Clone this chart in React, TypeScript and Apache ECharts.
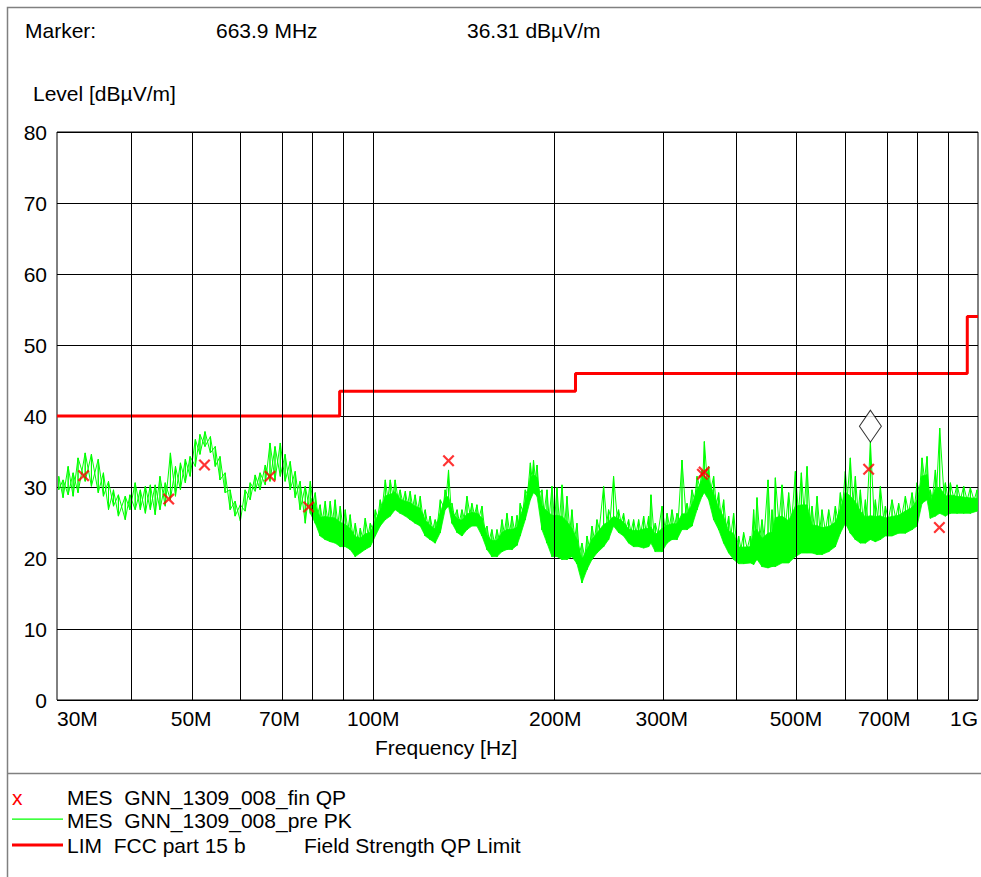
import React, { useEffect, useRef } from "react";
import * as echarts from "echarts";

// Pre-scan peak trace (MES GNN_1309_008_pre PK): frequency [MHz], upper and lower edge of the noisy trace [dBµV/m]
const peakFreqMHz = [
  30.2, 30.7, 31.3, 31.9, 32.5, 33.4, 34.2, 35.1, 35.8, 36.5, 37.2, 37.9, 38.9, 39.6, 40.4, 41.2, 42.0, 42.8, 43.6, 44.4,
  45.3, 46.2, 47.1, 48.0, 48.9, 49.8, 50.8, 51.7, 52.7, 53.8, 54.8, 55.8, 56.9, 58.0, 59.1, 60.3, 61.4, 62.6, 63.8, 65.0,
  66.3, 67.5, 68.8, 70.2, 71.5, 72.9, 74.3, 75.7, 77.2, 78.7, 80.2, 81.7, 83.3, 84.9, 86.5, 88.2, 89.9, 91.6, 93.4, 95.2,
  97.0, 98.9, 100.8, 102.7, 104.7, 106.7, 108.7, 110.8, 113.0, 115.1, 117.3, 119.6, 121.9, 124.2, 126.6, 129.1, 131.5, 133.2, 135.0, 137.6,
  140.2, 142.9, 145.6, 148.4, 151.3, 154.2, 157.1, 160.2, 163.3, 166.4, 169.6, 172.9, 175.0, 178.4, 181.9, 184.1, 186.6, 190.1, 193.8, 197.5,
  201.3, 205.2, 209.1, 213.1, 217.2, 221.4, 225.7, 230.0, 234.4, 240.4, 245.0, 249.7, 254.5, 259.4, 264.4, 269.5, 274.7, 280.0, 285.3, 287.9,
  292.7, 300.3, 306.1, 311.9, 317.9, 324.0, 330.3, 336.6, 343.1, 349.7, 352.8, 358.6, 365.5, 372.5, 379.7, 387.0, 394.4, 402.0, 409.7, 420.3,
  425.6, 431.1, 439.4, 449.6, 456.5, 462.3, 474.2, 486.3, 498.9, 510.4, 521.6, 531.6, 541.9, 552.2, 566.4, 580.9, 592.1, 603.5, 615.0, 626.9,
  639.0, 651.3, 663.9, 676.6, 689.6, 702.8, 720.9, 739.3, 758.4, 778.0, 793.0, 808.1, 823.7, 834.2, 850.1, 864.3, 883.2, 900.2, 923.4, 947.0,
  971.4, 996.5,
];
const peakHigh = [
  31.5, 31.0, 32.9, 32.0, 34.1, 34.8, 34.6, 33.9, 32.0, 30.8, 29.6, 28.9, 28.7, 28.9, 30.6, 29.6, 30.1, 30.3, 30.3, 31.5,
  30.6, 34.8, 32.9, 33.4, 33.9, 34.3, 36.7, 37.4, 37.8, 37.1, 35.7, 34.3, 32.0, 29.6, 28.0, 27.5, 29.6, 30.6, 31.7, 32.0,
  33.1, 36.2, 35.7, 36.2, 34.6, 33.6, 32.2, 30.8, 30.1, 30.8, 29.2, 27.5, 28.0, 28.0, 28.2, 27.3, 26.8, 26.1, 24.9, 24.2,
  25.6, 24.9, 26.8, 28.2, 31.0, 31.0, 31.0, 29.6, 29.4, 29.4, 28.9, 28.7, 26.8, 25.9, 25.4, 28.2, 29.6, 32.4, 27.7, 26.8,
  26.8, 28.7, 27.7, 27.5, 27.3, 24.5, 24.0, 24.0, 25.4, 26.3, 25.9, 26.0, 27.7, 29.6, 33.4, 33.8, 33.1, 29.6, 29.6, 30.1,
  29.9, 30.3, 28.7, 26.8, 24.9, 22.1, 23.1, 24.5, 25.4, 30.1, 26.8, 31.5, 26.8, 26.3, 25.4, 25.4, 25.4, 25.9, 25.9, 28.9,
  24.9, 27.3, 26.3, 26.8, 26.3, 33.8, 27.7, 29.6, 31.5, 32.4, 36.4, 32.9, 31.5, 29.2, 28.2, 25.9, 26.3, 23.1, 23.6, 23.1,
  26.8, 28.5, 25.4, 31.0, 26.8, 31.3, 30.3, 29.2, 32.2, 32.0, 32.9, 27.3, 28.7, 26.8, 26.8, 27.3, 29.2, 32.2, 34.1, 31.5,
  29.6, 28.2, 36.31, 28.2, 30.1, 27.3, 28.2, 27.7, 28.7, 29.2, 30.6, 34.1, 34.3, 29.6, 32.4, 38.3, 30.6, 30.6, 30.3, 30.1,
  29.9, 29.6,
];
const peakLow = [
  29.6, 28.5, 28.9, 28.7, 29.2, 30.8, 30.1, 29.2, 28.7, 26.8, 27.3, 25.9, 25.4, 26.8, 26.8, 26.8, 26.3, 26.8, 26.1, 26.8,
  27.3, 28.2, 28.7, 29.6, 30.6, 31.5, 32.9, 34.6, 35.7, 34.8, 32.9, 31.0, 29.2, 26.8, 25.9, 25.2, 26.6, 28.2, 29.4, 29.6,
  30.3, 30.8, 31.0, 31.5, 30.8, 29.6, 28.5, 26.8, 24.9, 26.3, 24.9, 23.1, 22.6, 22.3, 22.1, 21.6, 21.6, 21.2, 20.2, 20.7,
  21.2, 21.6, 23.1, 24.5, 25.4, 25.9, 26.8, 26.3, 25.9, 25.4, 24.9, 24.5, 23.1, 22.6, 22.1, 23.6, 26.8, 27.3, 24.9, 23.6,
  23.1, 24.0, 24.5, 24.5, 23.1, 21.2, 20.2, 20.2, 20.9, 21.2, 21.2, 21.8, 23.1, 25.4, 28.2, 29.2, 28.7, 24.0, 22.1, 20.2,
  20.2, 19.8, 19.8, 20.2, 19.2, 16.5, 18.4, 19.8, 20.7, 21.6, 22.6, 24.5, 23.6, 23.1, 22.1, 21.6, 21.6, 21.4, 21.6, 22.1,
  20.9, 20.9, 22.1, 22.6, 22.6, 24.0, 24.0, 24.5, 26.8, 28.7, 29.2, 28.2, 25.4, 24.0, 22.1, 20.7, 19.8, 19.2, 19.2, 19.3,
  19.1, 19.8, 18.8, 18.6, 18.8, 18.8, 19.3, 19.3, 20.2, 20.7, 20.7, 20.7, 20.5, 20.5, 20.9, 21.6, 23.5, 24.9, 23.5, 22.6,
  22.1, 22.1, 22.6, 22.3, 22.6, 23.1, 23.1, 23.5, 23.5, 24.0, 24.5, 27.7, 28.2, 25.6, 25.9, 26.3, 25.9, 26.3, 26.3, 26.3,
  26.3, 26.6,
];

// Final quasi-peak measurements (MES GNN_1309_008_fin QP)
const qpFreqMHz = [33.2, 45.9, 52.6, 67.5, 78.2, 133.2, 350.2, 352.5, 659.5, 863.3];
const qpLevel = [31.6, 28.3, 33.1, 31.5, 27.2, 33.7, 31.8, 32.1, 32.5, 24.3];

// Limit line (LIM FCC part 15 b, Field Strength QP Limit)
const limitFreqMHz = [30, 88, 88, 216, 216, 960, 960, 1000];
const limitLevel = [40, 40, 43.5, 43.5, 46, 46, 54, 54];

// Marker
const markerFreqMHz = 663.9;
const markerLevel = 36.31;

// Axis ticks
const tickFreqMHz = [30, 50, 70, 100, 200, 300, 500, 700, 1000];
const tickLabels = ["30M", "50M", "70M", "100M", "200M", "300M", "500M", "700M", "1G"];
const gridFreqMHz = [40, 50, 60, 70, 80, 90, 100, 200, 300, 400, 500, 600, 700, 800, 900];
const levelMin = 0;
const levelMax = 80;
const levelStep = 10;

const lx = (fMHz: number) => Math.log10(fMHz * 1e6);
const FONT = "'Liberation Sans', Arial, Helvetica, sans-serif";
const FS = 21;
const GREEN = "#00ff00";
const RED = "#ff0000";
const DENSE_FROM_MHZ = 78; // above this the pre-scan trace is drawn as a dense band
const BODY_SHARE = 0.6; // share of the trace width drawn as the solid body

export default function App() {
  const ref = useRef<HTMLDivElement>(null);

  useEffect(() => {
    if (!ref.current) return;
    const chart = echarts.init(ref.current, undefined, { renderer: "svg" });

    // two interleaved zig-zags between the upper and lower edge of the trace
    const traceA: number[][] = [];
    const traceB: number[][] = [];
    peakFreqMHz.forEach((f, i) => {
      traceA.push([lx(f), peakHigh[i]], [lx(f), peakLow[i]]);
      traceB.push([lx(f), peakLow[i]], [lx(f), peakHigh[i]]);
    });
    // solid body: isolated spikes are left to the zig-zag
    const bandData: number[][] = [];
    peakFreqMHz.forEach((f, i) => {
      if (f < DENSE_FROM_MHZ) return;
      const prev = i > 0 ? peakHigh[i - 1] : peakHigh[i];
      const next = i < peakHigh.length - 1 ? peakHigh[i + 1] : peakHigh[i];
      const top = Math.min(peakHigh[i], Math.max(prev, next));
      bandData.push([lx(f), peakLow[i] + BODY_SHARE * (top - peakLow[i]), peakLow[i]]);
    });
    const qpData = qpFreqMHz.map((f, i) => [lx(f), qpLevel[i]]);
    const limitData = limitFreqMHz.map((f, i) => [lx(f), limitLevel[i]]);

    const labelFor = (v: number) => {
      const i = tickFreqMHz.findIndex((f) => Math.abs(lx(f) - v) < 1e-6);
      return i >= 0 ? tickLabels[i] : "";
    };

    const txt = (text: string, x: number, y: number, extra: any = {}) => ({
      type: "text",
      x,
      y,
      silent: true,
      style: {
        text,
        fill: "#000",
        font: `${FS}px ${FONT}`,
        fontSize: FS,
        fontFamily: FONT,
        verticalAlign: "middle",
        textVerticalAlign: "middle",
        ...extra,
      },
    });

    const xShape =
      "path://M0,1.3L1.3,0L5,3.7L8.7,0L10,1.3L6.3,5L10,8.7L8.7,10L5,6.3L1.3,10L0,8.7L3.7,5Z";

    const traceSeries = (name: string, data: number[][]) => ({
      type: "line",
      name,
      data,
      showSymbol: false,
      symbol: "none",
      lineStyle: { color: GREEN, width: 1 },
      z: 3,
      silent: true,
    });

    chart.setOption({
      animation: false,
      backgroundColor: "#fff",
      textStyle: { fontFamily: FONT },
      grid: {
        left: 57,
        top: 132,
        right: 3,
        bottom: 177,
        show: true,
        borderColor: "#000",
        borderWidth: 1,
        backgroundColor: "transparent",
      },
      xAxis: {
        type: "value",
        min: lx(30),
        max: lx(1000),
        axisLine: { show: false },
        axisTick: { show: false },
        splitLine: { show: false },
        axisLabel: {
          customValues: tickFreqMHz.map(lx),
          formatter: labelFor,
          fontSize: FS,
          fontFamily: FONT,
          color: "#000",
          margin: 8,
          showMinLabel: true,
          showMaxLabel: true,
          alignMinLabel: "left",
          alignMaxLabel: "right",
        },
      },
      yAxis: {
        type: "value",
        min: levelMin,
        max: levelMax,
        interval: levelStep,
        axisLine: { show: false },
        axisTick: { show: false },
        splitLine: { show: true, lineStyle: { color: "#000", width: 1 } },
        axisLabel: { fontSize: FS, fontFamily: FONT, color: "#000", margin: 10 },
      },
      series: [
        {
          type: "line",
          name: "grid",
          data: [],
          z: 1,
          silent: true,
          markLine: {
            silent: true,
            symbol: ["none", "none"],
            label: { show: false },
            lineStyle: { color: "#000", width: 1, type: "solid" },
            data: gridFreqMHz.map((f) => ({ xAxis: lx(f) })),
          },
        },
        {
          type: "custom",
          name: "band",
          data: bandData,
          encode: { x: 0, y: [1, 2] },
          z: 2,
          silent: true,
          clip: true,
          renderItem: (params: any, api: any) => {
            const i = params.dataIndexInside;
            if (i >= params.dataInsideLength - 1) return { type: "group", children: [] };
            const a = api.coord([api.value(0, i), api.value(1, i)]);
            const b = api.coord([api.value(0, i + 1), api.value(1, i + 1)]);
            const c = api.coord([api.value(0, i + 1), api.value(2, i + 1)]);
            const d = api.coord([api.value(0, i), api.value(2, i)]);
            return {
              type: "polygon",
              shape: { points: [a, b, c, d] },
              style: { fill: GREEN, stroke: GREEN, lineWidth: 0.8 },
            };
          },
        },
        traceSeries("MES GNN_1309_008_pre PK", traceA),
        traceSeries("MES GNN_1309_008_pre PK ", traceB),
        {
          type: "line",
          name: "LIM FCC part 15 b",
          data: limitData,
          showSymbol: false,
          symbol: "none",
          lineStyle: { color: RED, width: 3 },
          z: 4,
          silent: true,
        },
        {
          type: "scatter",
          name: "MES GNN_1309_008_fin QP",
          data: qpData,
          symbol: xShape,
          symbolSize: 12,
          itemStyle: { color: RED },
          z: 5,
          silent: true,
        },
        {
          type: "scatter",
          name: "Marker",
          data: [[lx(markerFreqMHz), markerLevel]],
          symbol: "diamond",
          symbolSize: [22, 32],
          symbolOffset: [0, -16],
          itemStyle: { color: "#fff", borderColor: "#000", borderWidth: 1 },
          z: 6,
          silent: true,
        },
      ],
      graphic: [
        {
          type: "rect",
          silent: true,
          shape: { x: 7.5, y: 7.5, width: 1000, height: 900 },
          style: { fill: "none", stroke: "#808080", lineWidth: 1.5 },
        },
        {
          type: "line",
          silent: true,
          shape: { x1: 7, y1: 773.5, x2: 981, y2: 773.5 },
          style: { stroke: "#808080", lineWidth: 1.5 },
        },
        txt("Marker:", 25, 30),
        txt(`${markerFreqMHz} MHz`, 216, 30),
        txt(`${markerLevel} dBµV/m`, 467, 30),
        txt("Level [dBµV/m]", 33, 93),
        txt("Frequency [Hz]", 375, 747),
        txt("x", 12, 797, { fill: RED }),
        txt("MES  GNN_1309_008_fin QP", 67, 797),
        {
          type: "rect",
          silent: true,
          shape: { x: 12, y: 818.5, width: 51, height: 1.2 },
          style: { fill: GREEN },
        },
        txt("MES  GNN_1309_008_pre PK", 67, 820),
        {
          type: "rect",
          silent: true,
          shape: { x: 12, y: 843.5, width: 51, height: 3 },
          style: { fill: RED },
        },
        txt("LIM  FCC part 15 b", 67, 845),
        txt("Field Strength QP Limit", 304, 845),
      ],
    });

    return () => chart.dispose();
  }, []);

  return (
    <div
      ref={ref}
      style={{ position: "fixed", left: 0, top: 0, width: 981, height: 877, background: "#fff" }}
    />
  );
}
